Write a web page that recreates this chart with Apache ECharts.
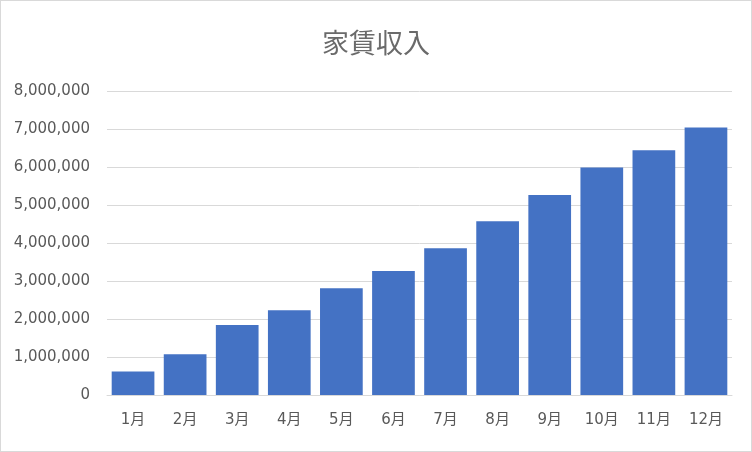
<!DOCTYPE html>
<html>
<head>
<meta charset="utf-8">
<script src="https://cdn.jsdelivr.net/npm/echarts@6/dist/echarts.min.js"></script>
<style>
  html, body { margin: 0; padding: 0; background: #fff; }
  #chart { width: 750px; height: 450px; border: 1px solid #d9d9d9; }
</style>
</head>
<body>
<div id="chart"></div>
<script>
// 月別の家賃収入
var months = ['1月', '2月', '3月', '4月', '5月', '6月', '7月', '8月', '9月', '10月', '11月', '12月'];
var rentIncome = [620000, 1070000, 1840000, 2230000, 2810000, 3260000, 3860000, 4570000, 5260000, 5990000, 6440000, 7040000];

var labelFont = '"DejaVu Sans", "Noto Sans CJK JP", sans-serif';

var myChart = echarts.init(document.getElementById('chart'));
myChart.setOption({
    animation: false,
    textStyle: { fontFamily: '"Noto Sans CJK JP", sans-serif' },
    title: {
        text: '家賃収入',
        left: 'center',
        top: 23,
        textStyle: {
            fontSize: 27,
            fontWeight: 'normal',
            color: '#6a6a6a',
            fontFamily: '"Noto Sans CJK JP", sans-serif'
        }
    },
    grid: { left: 106, right: 19, top: 90, bottom: 56 },
    xAxis: {
        type: 'category',
        data: months,
        axisLine: { lineStyle: { color: '#d9d9d9', width: 1 } },
        axisTick: { show: false },
        axisLabel: { color: '#595959', fontSize: 15, margin: 18, fontFamily: labelFont }
    },
    yAxis: {
        type: 'value',
        min: 0,
        max: 8000000,
        interval: 1000000,
        axisLine: { show: false },
        axisTick: { show: false },
        axisLabel: {
            color: '#595959',
            fontSize: 15,
            margin: 17,
            fontFamily: labelFont,
            formatter: function (v) { return v.toLocaleString('en-US'); }
        },
        splitLine: { lineStyle: { color: '#d9d9d9', width: 1 } }
    },
    series: [
        {
            name: '家賃収入',
            type: 'bar',
            data: rentIncome,
            barCategoryGap: '18%',
            itemStyle: { color: '#4472c4' }
        }
    ]
});
</script>
</body>
</html>
